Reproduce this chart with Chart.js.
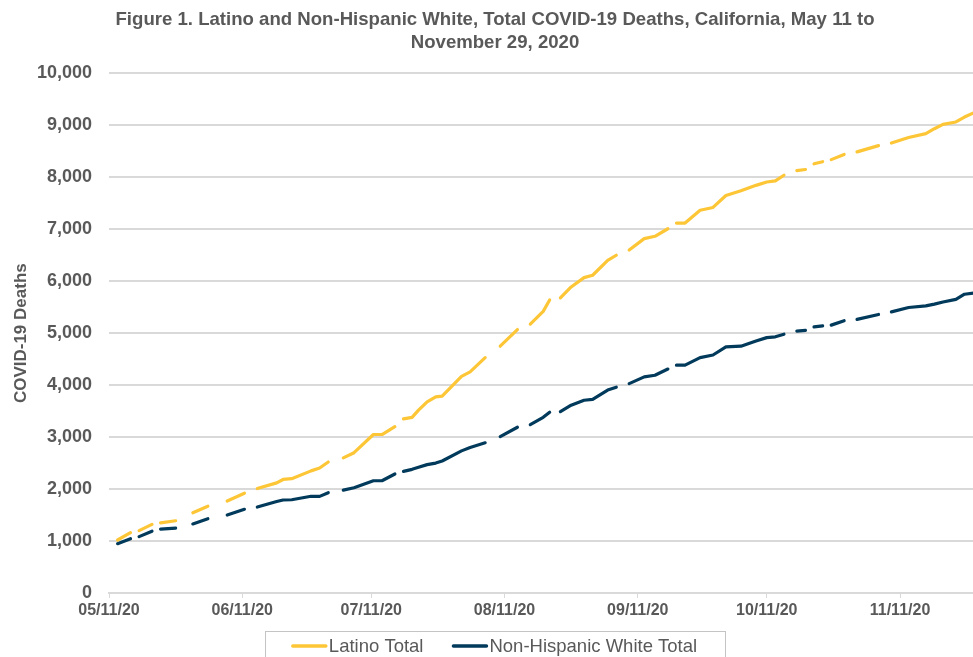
<!DOCTYPE html>
<html>
<head>
<meta charset="utf-8">
<title>Latino and Non-Hispanic White, Total COVID-19 Deaths, California</title>
<script src="https://cdn.jsdelivr.net/npm/chart.js@4.4.0/dist/chart.umd.min.js"></script>
<style>
    html, body { margin: 0; padding: 0; background: #fff; overflow: hidden; }
    #wrap { width: 990px; height: 657px; }
</style>
</head>
<body>
<div id="wrap"><canvas id="deaths-chart" width="990" height="657"></canvas></div>
<script>
// days since 05/11/20; null entries are the days with no report (gaps in the lines)
const days = [2, 5, 6, 7, 10, 11, 12, 15.5, 17.5, 19.5,
    23, 25, 27.5, 31.5, 33, 34.5, 39, 40.5, 42.5, 47,
    49, 51, 53, 54.5, 57, 61.5, 63.5, 66.5, 67.5, 68.5,
    70.5, 72, 74, 76, 77.5, 82, 84, 87.5, 89, 91,
    95, 96.5, 98, 101, 102.5, 104, 105, 107.5, 110.5, 112.5,
    116, 118, 119.5, 121, 124.5, 127, 130, 131, 132, 134,
    137.5, 140.5, 143.5, 147, 150.5, 153, 155, 157, 158.5, 160,
    162, 163, 164, 166, 167, 168, 171, 172.5, 174, 179,
    180.5, 182, 186, 190, 192, 194, 197, 199, 201.5];

const latinoTotal = [1020, 1160, null, 1200, 1320, null, 1350, 1390, null, 1545,
    1670, null, 1770, 1920, null, 2010, 2120, 2185, 2200, 2350,
    2405, 2520, null, 2600, 2700, 3050, 3050, 3200, null, 3350,
    3380, 3520, 3680, 3775, 3790, 4170, 4255, 4530, null, 4750,
    5070, null, 5175, 5420, 5640, null, 5680, 5890, 6070, 6115,
    6400, 6500, null, 6600, 6820, 6865, 7010, null, 7120, 7120,
    7365, 7420, 7650, 7740, 7845, 7910, 7930, 8040, null, 8130,
    8150, null, 8260, 8300, null, 8340, 8440, null, 8490, 8610,
    null, 8660, 8765, 8840, 8935, 9020, 9065, 9160, 9255];

const whiteTotal = [950, 1045, null, 1085, 1190, null, 1230, 1250, null, 1330,
    1430, null, 1500, 1610, null, 1655, 1760, 1790, 1795, 1862,
    1860, 1930, null, 1980, 2025, 2160, 2160, 2290, null, 2340,
    2380, 2420, 2470, 2500, 2540, 2735, 2800, 2890, null, 3010,
    3190, null, 3240, 3380, 3480, null, 3490, 3615, 3710, 3725,
    3905, 3960, null, 4030, 4160, 4190, 4310, null, 4385, 4385,
    4530, 4580, 4735, 4750, 4850, 4915, 4930, 4980, null, 5040,
    5055, null, 5120, 5140, null, 5155, 5240, null, 5265, 5360,
    null, 5410, 5495, 5525, 5560, 5600, 5650, 5750, 5775];

const tickDays = [0, 31, 61, 92, 123, 153, 184];
const tickLabels = ['05/11/20', '06/11/20', '07/11/20', '08/11/20', '09/11/20', '10/11/20', '11/11/20'];

const FONT = '"Liberation Sans", Arial, sans-serif';
const TEXT_GREY = '#595959';
const GRID_GREY = '#d9d9d9';

function toPoints(values) {
    return days.map((d, i) => ({ x: d, y: values[i] }));
}

// legend with a frame round it, drawn under the x axis
const boxedLegend = {
    id: 'boxedLegend',
    afterDraw(chart) {
        const ctx = chart.ctx;
        const top = chart.chartArea.bottom + 38;
        const midY = top + 15;
        const lineLen = 33, textGap = 3, itemGap = 30;

        ctx.save();
        ctx.font = '18.5px ' + FONT;
        const widths = chart.data.datasets.map(ds => ctx.measureText(ds.label).width);
        const total = widths.reduce((s, w) => s + w + lineLen + textGap, 0) + itemGap * (widths.length - 1);
        let x = chart.width / 2 - total / 2;

        ctx.strokeStyle = '#c4c4c4';
        ctx.lineWidth = 1;
        ctx.strokeRect(Math.round(x - 28) + 0.5, top + 0.5, Math.round(total + 56), 60);

        chart.data.datasets.forEach((ds, i) => {
            ctx.strokeStyle = ds.borderColor;
            ctx.lineWidth = 3.5;
            ctx.lineCap = 'round';
            ctx.beginPath();
            ctx.moveTo(x, midY);
            ctx.lineTo(x + lineLen, midY);
            ctx.stroke();

            ctx.fillStyle = TEXT_GREY;
            ctx.textBaseline = 'middle';
            ctx.fillText(ds.label, x + lineLen + textGap, midY + 1);
            x += lineLen + textGap + widths[i] + itemGap;
        });
        ctx.restore();
    }
};

new Chart(document.getElementById('deaths-chart'), {
    type: 'line',
    data: {
        datasets: [{
            label: 'Latino Total',
            data: toPoints(latinoTotal),
            borderColor: '#fcc636',
            backgroundColor: '#fcc636',
            borderWidth: 3.2,
            borderCapStyle: 'round',
            borderJoinStyle: 'round',
            pointRadius: 0,
            spanGaps: false
        }, {
            label: 'Non-Hispanic White Total',
            data: toPoints(whiteTotal),
            borderColor: '#023a5c',
            backgroundColor: '#023a5c',
            borderWidth: 3.2,
            borderCapStyle: 'round',
            borderJoinStyle: 'round',
            pointRadius: 0,
            spanGaps: false
        }]
    },
    options: {
        responsive: false,
        animation: false,
        layout: {
            padding: { left: 12.6, right: 12.6, top: 0, bottom: 34 }
        },
        plugins: {
            legend: { display: false },
            tooltip: { enabled: false },
            title: {
                display: true,
                text: ['Figure 1. Latino and Non-Hispanic White, Total COVID-19 Deaths, California, May 11 to',
                       'November 29, 2020'],
                color: TEXT_GREY,
                font: { family: FONT, size: 18.6, weight: 'bold', lineHeight: 1.22 },
                padding: { top: 9, bottom: 19 }
            }
        },
        scales: {
            x: {
                type: 'linear',
                min: 0,
                max: 202,
                afterBuildTicks: function(scale) {
                    scale.ticks = tickDays.map(v => ({ value: v }));
                },
                afterFit: function(scale) {
                    scale.height = 30;
                },
                ticks: {
                    autoSkip: false,
                    maxRotation: 0,
                    padding: 3,
                    color: TEXT_GREY,
                    font: { family: FONT, size: 16, weight: 'bold' },
                    callback: function(value) {
                        return tickLabels[tickDays.indexOf(value)];
                    }
                },
                grid: {
                    drawOnChartArea: false,
                    drawTicks: true,
                    tickLength: 5,
                    color: GRID_GREY,
                    lineWidth: 1
                },
                border: { color: GRID_GREY, width: 2 }
            },
            y: {
                min: 0,
                max: 10000,
                afterFit: function(scale) {
                    scale.width = 96.4;
                },
                ticks: {
                    stepSize: 1000,
                    padding: 17,
                    color: TEXT_GREY,
                    font: { family: FONT, size: 18, weight: 'bold' },
                    callback: function(value) {
                        return value.toLocaleString('en-US');
                    }
                },
                grid: {
                    color: GRID_GREY,
                    lineWidth: 2,
                    drawTicks: false
                },
                border: { display: false },
                title: {
                    display: true,
                    text: 'COVID-19 Deaths',
                    color: TEXT_GREY,
                    font: { family: FONT, size: 17, weight: 'bold', lineHeight: 1 },
                    padding: { top: 0, bottom: 0 }
                }
            }
        }
    },
    plugins: [boxedLegend]
});
</script>
</body>
</html>
